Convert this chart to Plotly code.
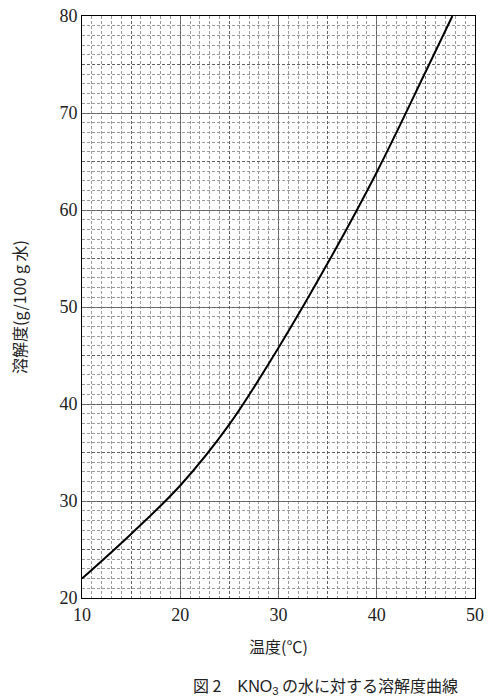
import plotly.graph_objects as go

temp_c = [10, 15, 20, 25, 30, 35, 40, 45, 47.7]
solubility = [22.0, 26.6, 31.6, 37.9, 45.8, 54.5, 63.9, 74.3, 80.0]

x_range = [10, 50]
y_range = [20, 80]
tick_vals_x = [10, 20, 30, 40, 50]
tick_vals_y = [20, 30, 40, 50, 60, 70, 80]

serif = "Liberation Serif"
cjk = "Noto Sans CJK JP"

fig = go.Figure()
fig.add_trace(go.Scatter(x=temp_c, y=solubility, mode="lines",
                         line=dict(color="black", width=2, shape="spline", smoothing=1.0),
                         showlegend=False, hoverinfo="skip"))
fig.add_trace(go.Scatter(x=x_range, y=y_range, xaxis="x2", yaxis="y2", mode="markers",
                         marker=dict(opacity=0), showlegend=False, hoverinfo="skip"))

fig.update_layout(
    width=489, height=697,
    margin=dict(l=82, r=14, t=16, b=99),
    paper_bgcolor="white", plot_bgcolor="white",
    xaxis=dict(range=x_range, tickvals=tick_vals_x, showgrid=True, gridcolor="#7a7a7a", gridwidth=1,
               minor=dict(dtick=1, showgrid=True, gridcolor="#9a9a9a", griddash="3px,2px", gridwidth=1),
               showline=True, linecolor="black", linewidth=1, mirror=True, zeroline=False,
               automargin=False,
               tickfont=dict(family=serif, size=18, color="#222"), ticks="",
               title=dict(text="温度(℃)", font=dict(family=cjk, size=16, color="#222"), standoff=18)),
    yaxis=dict(range=y_range, tickvals=tick_vals_y, showgrid=True, gridcolor="#7a7a7a", gridwidth=1,
               minor=dict(dtick=1, showgrid=True, gridcolor="#9a9a9a", griddash="3px,2px", gridwidth=1),
               showline=True, linecolor="black", linewidth=1, mirror=True, zeroline=False,
               automargin=False,
               tickfont=dict(family=serif, size=18, color="#222"), ticks="",
               title=dict(text="溶解度(g/100 g 水)", font=dict(family=cjk, size=16, color="#222"), standoff=28)),
    xaxis2=dict(range=x_range, overlaying="x", dtick=5, tick0=15, showgrid=True, gridcolor="#606060",
                griddash="3px,2px", showticklabels=False, zeroline=False, ticks="", automargin=False),
    yaxis2=dict(range=y_range, overlaying="y", dtick=5, tick0=25, showgrid=True, gridcolor="#606060",
                griddash="3px,2px", showticklabels=False, zeroline=False, ticks="", automargin=False),
    annotations=[dict(
        text="図 2　<span style='font-family:Liberation Sans'>KNO<sub>3</sub></span> の水に対する溶解度曲線",
        x=0.62, xref="paper", y=-0.1495, yref="paper", yanchor="middle", showarrow=False,
        font=dict(family=cjk, size=16, color="#222"))],
)

fig.write_html("out.html", config={"displayModeBar": False},
               post_script="document.body.style.margin='0px';document.body.style.overflow='hidden';")
